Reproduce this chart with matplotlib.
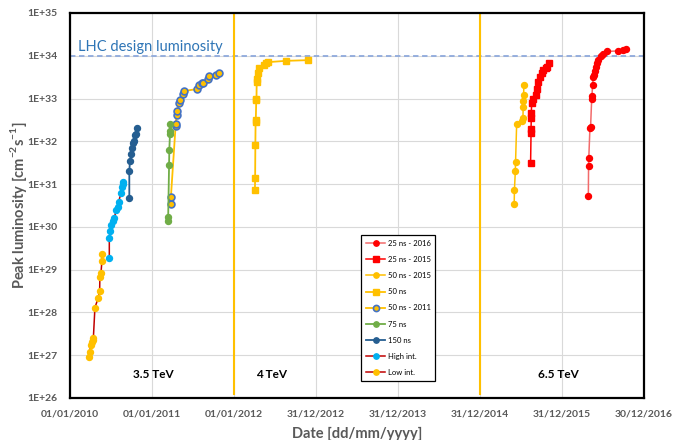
import math
import matplotlib
matplotlib.use("Agg")
import matplotlib.pyplot as plt
import matplotlib.dates as mdates
from matplotlib.ticker import FixedLocator, FuncFormatter, NullFormatter
import pandas as pd

plt.rcParams['font.family'] = ['Lato', 'DejaVu Sans']
plt.rcParams['mathtext.fontset'] = 'custom'
plt.rcParams['mathtext.rm'] = 'Lato'
plt.rcParams['mathtext.bf'] = 'Lato:bold'

# peak luminosity per fill [cm^-2 s^-1], grouped by running period / bunch spacing
low_int_dates = ["2010-03-28", "2010-03-30", "2010-04-03", "2010-04-07", "2010-04-12",
                 "2010-04-15", "2010-04-22", "2010-05-07", "2010-05-13", "2010-05-14",
                 "2010-05-19", "2010-05-23", "2010-05-23"]
low_int_lumi = [9.3e26, 1.2e27, 1.7e27, 2.0e27, 2.3e27, 2.5e27, 1.3e28, 2.2e28, 3.2e28,
                6.9e28, 8.3e28, 1.6e29, 2.3e29]

high_int_dates = ["2010-06-25", "2010-06-25", "2010-06-29", "2010-07-04", "2010-07-13",
                  "2010-07-17", "2010-07-26", "2010-08-01", "2010-08-06", "2010-08-16",
                  "2010-08-20", "2010-08-24", "2010-08-25"]
high_int_lumi = [1.9e29, 5.4e29, 7.9e29, 1.1e30, 1.4e30, 1.6e30, 2.5e30, 2.9e30, 3.9e30,
                 6.2e30, 8.7e30, 1.0e31, 1.1e31]

ns150_dates = ["2010-09-22", "2010-09-22", "2010-09-25", "2010-10-01", "2010-10-04",
               "2010-10-08", "2010-10-13", "2010-10-17", "2010-10-23", "2010-10-25"]
ns150_lumi = [4.7e30, 2.0e31, 3.5e31, 5.0e31, 6.9e31, 8.9e31, 1.0e32, 1.4e32, 1.5e32, 2.1e32]

ns75_dates = ["2011-03-13", "2011-03-14", "2011-03-18", "2011-03-19", "2011-03-22",
              "2011-03-23", "2011-03-23"]
ns75_lumi = [1.4e30, 1.7e30, 2.8e31, 6.3e31, 1.5e32, 1.7e32, 2.6e32]

ns50_2011_dates = ["2011-03-26", "2011-03-26", "2011-04-16", "2011-04-16", "2011-04-21",
                   "2011-04-24", "2011-05-01", "2011-05-04", "2011-05-20", "2011-05-23",
                   "2011-07-19", "2011-07-30", "2011-08-10", "2011-08-17", "2011-09-08",
                   "2011-09-13", "2011-10-13", "2011-10-26"]
ns50_2011_lumi = [3.5e30, 4.9e30, 2.3e32, 2.6e32, 4.2e32, 5.2e32, 7.8e32, 9.3e32, 1.26e33,
                  1.5e33, 1.66e33, 2.1e33, 2.3e33, 2.35e33, 2.8e33, 3.4e33, 3.5e33, 3.9e33]

ns50_2012_dates = ["2012-04-03", "2012-04-04", "2012-04-05", "2012-04-06", "2012-04-07",
                   "2012-04-09", "2012-04-10", "2012-04-11", "2012-04-13", "2012-04-17",
                   "2012-04-21", "2012-05-13", "2012-05-21", "2012-06-01", "2012-08-18",
                   "2012-11-27"]
ns50_2012_lumi = [7.1e30, 1.4e31, 8.1e31, 2.9e32, 3.2e32, 9.3e32, 9.8e32, 2.5e33, 2.8e33,
                  4.0e33, 5.1e33, 6.0e33, 6.6e33, 7.1e33, 7.6e33, 7.9e33]

ns50_2015_dates = ["2015-06-01", "2015-06-02", "2015-06-06", "2015-06-07", "2015-06-12",
                   "2015-07-07", "2015-07-10", "2015-07-11", "2015-07-12", "2015-07-13",
                   "2015-07-14"]
ns50_2015_lumi = [3.4e30, 7.1e30, 2.0e31, 3.2e31, 2.6e32, 3.0e32, 3.5e32, 6.5e32, 8.7e32,
                  1.2e33, 2.1e33]

ns25_2015_dates = ["2015-08-13", "2015-08-15", "2015-08-15", "2015-08-16", "2015-08-16",
                   "2015-08-18", "2015-08-22", "2015-09-06", "2015-09-09", "2015-09-16",
                   "2015-09-24", "2015-10-01", "2015-10-08", "2015-10-20", "2015-10-26",
                   "2015-11-04"]
ns25_2015_lumi = [3.1e31, 1.6e32, 1.9e32, 3.5e32, 4.6e32, 7.8e32, 1.0e33, 1.2e33, 1.7e33,
                  2.5e33, 3.2e33, 3.9e33, 4.7e33, 5.1e33, 5.6e33, 6.6e33]

ns25_2016_dates = ["2016-04-26", "2016-04-27", "2016-04-28", "2016-05-03", "2016-05-06",
                   "2016-05-11", "2016-05-12", "2016-05-15", "2016-05-18", "2016-05-21",
                   "2016-05-25", "2016-05-30", "2016-06-02", "2016-06-09", "2016-06-20",
                   "2016-07-01", "2016-07-19", "2016-09-06", "2016-09-28", "2016-10-10"]
ns25_2016_lumi = [5.2e30, 2.6e31, 4.0e31, 2.0e32, 2.2e32, 1.0e33, 1.15e33, 2.1e33, 3.2e33,
                  3.5e33, 4.3e33, 5.6e33, 6.6e33, 7.9e33, 9.8e33, 1.1e34, 1.26e34, 1.3e34,
                  1.4e34, 1.45e34]

design_lumi = 1e34
era_boundaries = ["2012-01-01", "2015-01-01"]
energy_labels = ["3.5 TeV", "4 TeV", "6.5 TeV"]
energy_label_dates = ["2011-01-05", "2012-06-18", "2015-12-13"]

x_ticks = ["2010-01-01", "2011-01-01", "2012-01-01", "2012-12-31", "2013-12-31",
           "2014-12-31", "2015-12-31", "2016-12-30"]

ORANGE = "#FFC000"
RED = "#FF0000"
DARKRED = "#C00000"
GRAY = "#595959"

fig = plt.figure(figsize=(6.73, 4.40), dpi=100)
ax = fig.add_axes([0.104, 0.0955, 0.853, 0.875])

d = pd.to_datetime
ms = 4.3

ax.plot(d(ns25_2016_dates), ns25_2016_lumi, color="#F26B6B", lw=1.1, marker="o", ms=ms,
        mfc=RED, mec=RED, label="25 ns - 2016")
ax.plot(d(ns25_2015_dates), ns25_2015_lumi, color=RED, lw=1.1, marker="s", ms=ms + 0.6,
        mfc=RED, mec=RED, label="25 ns - 2015")
ax.plot(d(ns50_2015_dates), ns50_2015_lumi, color=ORANGE, lw=1.1, marker="o", ms=ms,
        label="50 ns - 2015")
ax.plot(d(ns50_2012_dates), ns50_2012_lumi, color=ORANGE, lw=1.3, marker="s", ms=ms,
        label="50 ns")
ax.plot(d(ns50_2011_dates), ns50_2011_lumi, color=ORANGE, lw=1.3, marker="o", ms=ms + 0.6,
        mfc=ORANGE, mec="#4472C4", mew=1.2, label="50 ns - 2011")
ax.plot(d(ns75_dates), ns75_lumi, color="#70AD47", lw=1.3, marker="o", ms=ms,
        label="75 ns")
ax.plot(d(ns150_dates), ns150_lumi, color="#255E91", lw=1.3, marker="o", ms=ms,
        label="150 ns")
ax.plot(d(high_int_dates), high_int_lumi, color=DARKRED, lw=1.1, marker="o", ms=ms,
        mfc="#00B0F0", mec="#00B0F0", label="High int.")
ax.plot(d(low_int_dates), low_int_lumi, color=DARKRED, lw=1.1, marker="o", ms=ms,
        mfc=ORANGE, mec=ORANGE, label="Low int.")

# design luminosity and energy eras
ax.axhline(design_lumi, color="#8FAADC", lw=1.3, ls=(0, (3, 2)), zorder=1)
ax.text(d("2010-02-06"), design_lumi * 1.12, "LHC design luminosity", color="#2E75B6",
        fontsize=10.5, va="bottom", ha="left")
for b in era_boundaries:
    ax.axvline(d(b), ymin=0.01, ymax=1, color=ORANGE, lw=1.5, zorder=1)
for lab, dt in zip(energy_labels, energy_label_dates):
    ax.text(d(dt), 3.5e26, lab, fontsize=8.5, fontweight="bold", ha="center", va="center",
            color="black")

ax.set_yscale("log")
ax.set_ylim(1e26, 1e35)
ax.set_xlim(d(x_ticks[0]), d(x_ticks[-1]))

ax.yaxis.set_major_locator(FixedLocator([10.0 ** k for k in range(26, 36)]))
ax.yaxis.set_minor_locator(FixedLocator([]))
ax.yaxis.set_minor_formatter(NullFormatter())
ax.yaxis.set_major_formatter(FuncFormatter(lambda v, p: "1E+%d" % round(math.log10(v))))
ax.set_xticks(d(x_ticks))
ax.xaxis.set_major_formatter(mdates.DateFormatter("%d/%m/%Y"))

ax.tick_params(length=0, labelsize=7.5, labelcolor=GRAY)
ax.tick_params(axis="y", pad=9)
ax.tick_params(axis="x", pad=8)
for t in ax.get_xticklabels() + ax.get_yticklabels():
    t.set_fontweight("bold")

ax.grid(True, color="#D9D9D9", lw=0.8)
ax.set_axisbelow(True)
for s in ax.spines.values():
    s.set_color("black")
    s.set_linewidth(1.6)

ax.set_ylabel(r"Peak luminosity [cm$^{\mathbf{-2}}$s$^{\mathbf{-1}}$]", fontsize=10.5,
              fontweight="bold", color=GRAY)
ax.yaxis.set_label_coords(-0.072, 0.5)
ax.set_xlabel("Date [dd/mm/yyyy]", fontsize=10.5, fontweight="bold", color=GRAY, labelpad=6)

leg = ax.legend(loc="upper left", bbox_to_anchor=(0.507, 0.423), borderaxespad=0,
                fontsize=5.5, labelspacing=1.2, handlelength=2.6, handletextpad=0.3,
                fancybox=False, framealpha=1, edgecolor="black", borderpad=0.6,
                markerscale=0.9)
leg.get_frame().set_linewidth(0.9)

fig.savefig("out.png", dpi=100)
